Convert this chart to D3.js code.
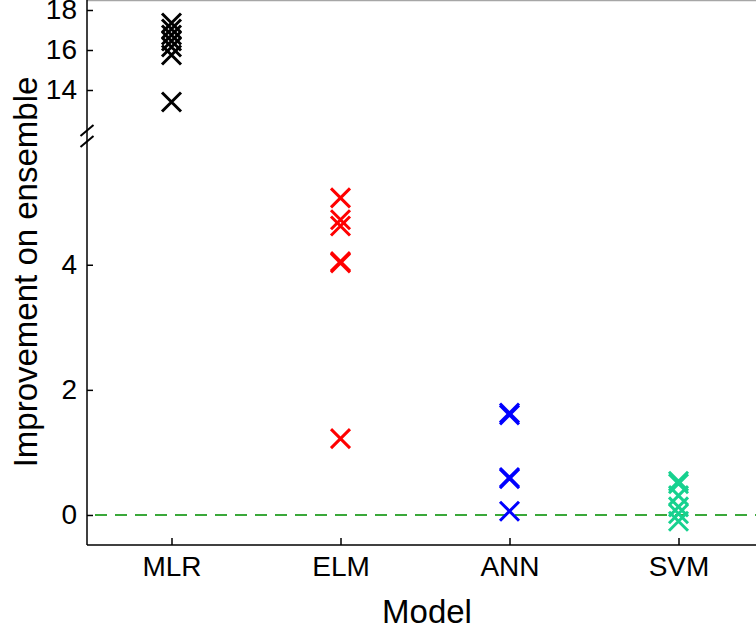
<!DOCTYPE html>
<html>
<head>
<meta charset="utf-8">
<script src="https://cdn.jsdelivr.net/npm/d3@7"></script>
<style>
  body { margin: 0; background: #fff; }
  svg { display: block; font-family: "Liberation Sans", Arial, sans-serif; }
</style>
</head>
<body>
<div id="chart"></div>
<script>
// categories and values
var models = ["MLR", "ELM", "ANN", "SVM"];
var mlrValues = [17.35, 17.05, 16.75, 16.45, 16.15, 15.75, 13.4];
var elmValues = [5.07, 4.72, 4.62, 4.05, 4.03, 1.22];
var annValues = [1.63, 1.60, 0.60, 0.58, 0.06];
var svmValues = [0.54, 0.50, 0.31, 0.13, 0.02, -0.1];
var modelColors = ["#000000", "#ff0000", "#0000ff", "#17d18f"];
var upperTicks = [14, 16, 18];
var lowerTicks = [0, 2, 4];

var allValues = [mlrValues, elmValues, annValues, svmValues];

var width = 756, height = 637;
var svg = d3.select("#chart").append("svg")
  .attr("width", width)
  .attr("height", height);

var axisX = 87, axisY = 545;

// x: category index, axis runs on past the right edge
var xscale = d3.scaleLinear().domain([0.5, 4.5]).range([axisX, 763]);

// broken y axis: upper part for MLR, lower part for the rest
var yUpper = d3.scaleLinear().domain([12.2, 18.5]).range([126, 0]);
var yLower = d3.scaleLinear().domain([-0.48, 6.25]).range([axisY, 124]);

function yOf(v) { return v > 10 ? yUpper(v) : yLower(v); }

// top border
svg.append("line")
  .attr("x1", axisX).attr("x2", width)
  .attr("y1", 0.5).attr("y2", 0.5)
  .attr("stroke", "#a6a6a6").attr("stroke-width", 1.5);

// zero reference line
svg.append("line")
  .attr("x1", axisX + 8).attr("x2", width)
  .attr("y1", yLower(0)).attr("y2", yLower(0))
  .attr("stroke", "#3aa83a").attr("stroke-width", 2)
  .attr("stroke-dasharray", "12,8");

// y axes
var upperAxis = d3.axisLeft(yUpper).tickValues(upperTicks).tickFormat(d3.format("d")).tickSize(-6).tickPadding(10);
var lowerAxis = d3.axisLeft(yLower).tickValues(lowerTicks).tickFormat(d3.format("d")).tickSize(-6).tickPadding(10);

[upperAxis, lowerAxis].forEach(function(ax) {
  var g = svg.append("g")
    .attr("transform", "translate(" + axisX + ",0)")
    .call(ax);
  g.select(".domain").remove();
  g.attr("font-size", 28).attr("font-family", null);
  g.selectAll(".tick line").attr("stroke", "#000").attr("stroke-width", 1.5);
  g.selectAll("text").attr("fill", "#000");
});

// x axis
var xAxis = d3.axisBottom(xscale)
  .tickValues([1, 2, 3, 4])
  .tickFormat(function(d) { return models[d - 1]; })
  .tickSize(-7).tickPadding(11);
var gx = svg.append("g")
  .attr("transform", "translate(0," + axisY + ")")
  .call(xAxis);
gx.select(".domain").remove();
gx.attr("font-size", 28).attr("font-family", null);
gx.selectAll(".tick line").attr("stroke", "#000").attr("stroke-width", 1.5);
gx.selectAll("text").attr("fill", "#000");

// axis lines
svg.append("line")
  .attr("x1", axisX).attr("x2", axisX)
  .attr("y1", 0).attr("y2", axisY)
  .attr("stroke", "#000").attr("stroke-width", 1.5);
svg.append("line")
  .attr("x1", axisX).attr("x2", width)
  .attr("y1", axisY).attr("y2", axisY)
  .attr("stroke", "#000").attr("stroke-width", 1.5);

// break marks
[130.5, 141.5].forEach(function(cy) {
  svg.append("line")
    .attr("x1", axisX - 6.5).attr("y1", cy + 5.5)
    .attr("x2", axisX + 6.5).attr("y2", cy - 5.5)
    .attr("stroke", "#000").attr("stroke-width", 2);
});

// markers
var points = [];
allValues.forEach(function(vals, i) {
  vals.forEach(function(v) { points.push({ model: i + 1, value: v }); });
});

var s = 9.5;
svg.append("g").selectAll("path")
  .data(points)
  .enter()
  .append("path")
  .attr("transform", d => "translate(" + xscale(d.model) + "," + yOf(d.value) + ")")
  .attr("d", "M" + (-s) + "," + (-s) + "L" + s + "," + s + "M" + (-s) + "," + s + "L" + s + "," + (-s))
  .attr("fill", "none")
  .attr("stroke", d => modelColors[d.model - 1])
  .attr("stroke-width", 3);

// axis titles
svg.append("text")
  .attr("x", 427).attr("y", 623)
  .attr("text-anchor", "middle")
  .attr("font-size", 33)
  .text("Model");
svg.append("text")
  .attr("transform", "translate(37,272) rotate(-90)")
  .attr("text-anchor", "middle")
  .attr("font-size", 33)
  .text("Improvement on ensemble");
</script>
</body>
</html>
